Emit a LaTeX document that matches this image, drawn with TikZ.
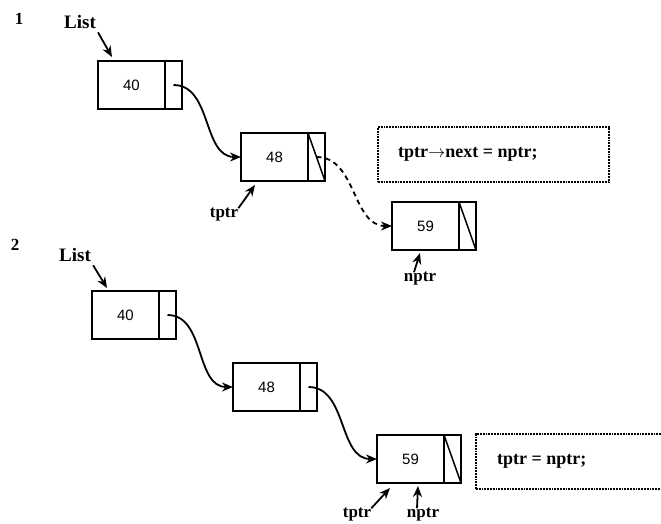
\documentclass[tikz,border=0pt]{standalone}
\usepackage{fontspec}
\setmainfont{Liberation Serif}
\newfontfamily\digitfont{Liberation Sans}
\usetikzlibrary{positioning,arrows.meta}
\tikzset{
  cell/.style = {rectangle, draw, line width=2pt, anchor=north west,
                 minimum width=67pt, minimum height=48pt,
                 inner sep=0pt, outer sep=0pt,
                 font=\digitfont\fontsize{15}{17}\selectfont},
  link/.style = {rectangle, draw, line width=2pt,
                 minimum width=17pt, minimum height=48pt,
                 inner sep=0pt, outer sep=0pt},
  code/.style = {rectangle, draw, densely dotted, line width=1.8pt,
                 anchor=north west, minimum height=55pt, inner sep=0pt},
  stmt/.style = {anchor=west, inner sep=0pt,
                 font=\bfseries\fontsize{18}{20}\selectfont},
  lab/.style  = {font=\bfseries\fontsize{17}{19}\selectfont, inner sep=0pt},
  arr/.style  = {-{Stealth[length=11pt,width=9pt]}, line width=1.8pt},
  nil/.style  = {line width=1.5pt}
}

\begin{document}
\begin{tikzpicture}[x=1pt, y=-1pt]
  \clip (0,0) rectangle (661,523);

  % Step 1
  \node[lab] (s1) at (19,19) {1};
  \node[lab, font=\bfseries\fontsize{19}{21}\selectfont] (list1) at (80,22) {List};

  \node[cell] (t40) at (98,61) {40};
  \node[link, right=0pt of t40] (t40p) {};
  \node[cell] (t48) at (241,133) {48};
  \node[link, right=0pt of t48] (t48p) {};
  \node[cell] (t59) at (392,202) {59};
  \node[link, right=0pt of t59] (t59p) {};
  \draw[nil] (t48p.north west) -- (t48p.south east);
  \draw[nil] (t59p.north west) -- (t59p.south east);

  \draw[arr] (t40p.center) to[out=0, in=180] (t48.west);
  \draw[arr, dash pattern=on 5pt off 4pt] (t48p.center) to[out=0, in=180] (t59.west);

  \node[code, minimum width=231pt] (c1) at (377,126) {};
  \node[stmt, right=21pt of c1.west] (c1t) {tptr$\rightarrow$next = nptr;};

  \node[lab] (tptr1) at (224,215) {tptr};
  \node[lab] (nptr1) at (420,279) {nptr};
  \draw[arr, shorten <=4pt] (list1.south east) -- ([xshift=14pt, yshift=4pt]t40.north west);
  \draw[arr] (tptr1.north east) -- ([xshift=14pt, yshift=-4pt]t48.south west);
  \draw[arr] ([xshift=-6pt]nptr1.north) -- ([xshift=28pt, yshift=-3pt]t59.south west);

  % Step 2
  \node[lab] (s2) at (15,245) {2};
  \node[lab, font=\bfseries\fontsize{19}{21}\selectfont] (list2) at (75,255) {List};

  \node[cell] (b40) at (92,291) {40};
  \node[link, right=0pt of b40] (b40p) {};
  \node[cell] (b48) at (233,363) {48};
  \node[link, right=0pt of b48] (b48p) {};
  \node[cell] (b59) at (377,435) {59};
  \node[link, right=0pt of b59] (b59p) {};
  \draw[nil] (b59p.north west) -- (b59p.south east);

  \draw[arr] (b40p.center) to[out=0, in=180] (b48.west);
  \draw[arr] (b48p.center) to[out=0, in=180] (b59.west);

  \node[code, minimum width=212pt] (c2) at (475,433) {};
  \node[stmt, right=22pt of c2.west] (c2t) {tptr = nptr;};

  \node[lab] (tptr2) at (357,515) {tptr};
  \node[lab] (nptr2) at (423,515) {nptr};
  \draw[arr, shorten <=4pt] (list2.south east) -- ([xshift=15pt, yshift=3pt]b40.north west);
  \draw[arr] (tptr2.north east) -- ([xshift=13pt, yshift=-5pt]b59.south west);
  \draw[arr] ([xshift=-6pt]nptr2.north) -- ([xshift=41pt, yshift=-3pt]b59.south west);
\end{tikzpicture}
\end{document}
